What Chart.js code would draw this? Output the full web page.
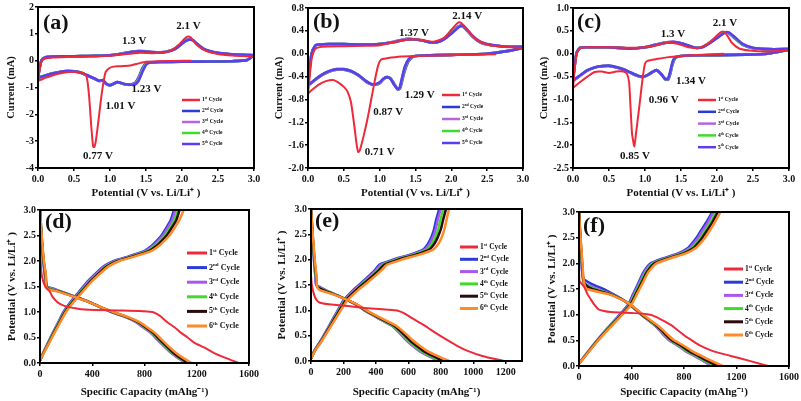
<!DOCTYPE html>
<html><head><meta charset="utf-8">
<script src="https://cdn.jsdelivr.net/npm/chart.js@4"></script>
<style>
html,body{margin:0;padding:0;background:#fff;}
body{width:801px;height:401px;position:relative;overflow:hidden;}
canvas{position:absolute;}
</style></head><body>
<canvas id="ca" width="265" height="200" style="left:0;top:0"></canvas>
<canvas id="cb" width="275" height="200" style="left:265px;top:0"></canvas>
<canvas id="cc" width="271" height="200" style="left:530px;top:0"></canvas>
<canvas id="cd" width="265" height="201" style="left:0;top:200px"></canvas>
<canvas id="ce" width="275" height="201" style="left:265px;top:200px"></canvas>
<canvas id="cf" width="271" height="201" style="left:530px;top:200px"></canvas>
<script>
// ---------------- DATA ----------------
const cvLabels = ['1st Cycle','2nd Cycle','3rd Cycle','4th Cycle','5th Cycle'];
const gcdLabels = ['1st Cycle','2nd Cycle','3rd Cycle','4th Cycle','5th Cycle','6th Cycle'];

const cvXTicks = ['0.0','0.5','1.0','1.5','2.0','2.5','3.0'];
const cvYTicksA = ['-4','-3','-2','-1','0','1','2'];
const cvYTicksB = ['-2.0','-1.6','-1.2','-0.8','-0.4','0.0','0.4','0.8'];
const cvYTicksC = ['-2.5','-2.0','-1.5','-1.0','-0.5','0.0','0.5','1.0'];
const gcdYTicks = ['0.0','0.5','1.0','1.5','2.0','2.5','3.0'];
const gcdXTicksD = ['0','400','800','1200','1600'];
const gcdXTicksE = ['0','200','400','600','800','1000','1200'];
const gcdXTicksF = ['0','400','800','1200','1600'];
const gcdXRangeE = [0, 1300];

// ---- CV (a) ----
const a_redCathV = [2.13,1.9,1.7,1.5,1.4,1.3,1.2,1.1,1.02,0.98,0.94,0.91,0.88,0.85,0.83,0.8,0.78,0.765,0.74,0.71,0.68,0.65,0.6,0.5,0.4,0.3,0.2,0.1,0.05,0.0];
const a_redCathI = [0.0,-0.01,-0.02,-0.04,-0.1,-0.17,-0.2,-0.21,-0.24,-0.3,-0.42,-0.8,-1.33,-2.0,-2.45,-3.05,-3.22,-3.19,-2.45,-1.33,-0.65,-0.5,-0.44,-0.41,-0.43,-0.48,-0.55,-0.64,-0.7,-0.75];
const a_redAnodV = [0.0,0.02,0.05,0.1,0.2,0.4,0.6,0.8,1.0,1.2,1.4,1.6,1.75,1.85,1.95,2.0,2.05,2.08,2.12,2.17,2.25,2.35,2.5,2.7,2.9,3.0];
const a_redAnodI = [-0.75,-0.4,-0.02,0.08,0.12,0.14,0.15,0.16,0.18,0.24,0.29,0.28,0.3,0.38,0.58,0.72,0.85,0.9,0.87,0.7,0.5,0.35,0.25,0.19,0.16,0.15];
const a_cathV = [3.0,2.9,2.7,2.4,2.0,1.7,1.55,1.5,1.45,1.4,1.35,1.3,1.25,1.2,1.15,1.1,1.05,1.0,0.95,0.9,0.85,0.8,0.7,0.6,0.5,0.4,0.3,0.2,0.1,0.0];
const a_c2Cath = [0.2,0.02,-0.02,-0.03,-0.04,-0.05,-0.06,-0.1,-0.28,-0.6,-0.82,-0.88,-0.9,-0.88,-0.84,-0.8,-0.86,-0.92,-0.88,-0.74,-0.76,-0.7,-0.58,-0.46,-0.4,-0.39,-0.42,-0.47,-0.55,-0.65];
const a_c3Cath = [0.2,0.02,-0.02,-0.03,-0.04,-0.05,-0.07,-0.12,-0.33,-0.65,-0.85,-0.89,-0.9,-0.88,-0.83,-0.8,-0.86,-0.91,-0.87,-0.73,-0.76,-0.69,-0.57,-0.45,-0.4,-0.39,-0.42,-0.47,-0.55,-0.64];
const a_c4Cath = [0.19,0.02,-0.02,-0.03,-0.04,-0.05,-0.07,-0.14,-0.38,-0.7,-0.87,-0.9,-0.9,-0.87,-0.83,-0.81,-0.87,-0.92,-0.86,-0.72,-0.75,-0.68,-0.56,-0.45,-0.4,-0.39,-0.42,-0.48,-0.55,-0.64];
const a_c5Cath = [0.19,0.02,-0.02,-0.03,-0.04,-0.05,-0.08,-0.16,-0.42,-0.74,-0.88,-0.9,-0.89,-0.87,-0.82,-0.8,-0.86,-0.91,-0.86,-0.72,-0.75,-0.68,-0.56,-0.45,-0.4,-0.39,-0.42,-0.48,-0.56,-0.63];
const a_anodV = [0.0,0.02,0.05,0.1,0.2,0.4,0.6,0.8,1.0,1.1,1.2,1.3,1.4,1.5,1.6,1.7,1.8,1.9,1.95,2.0,2.05,2.1,2.15,2.2,2.3,2.4,2.5,2.7,2.9,3.0];
const a_c2Anod = [-0.65,-0.3,0.02,0.12,0.15,0.16,0.17,0.18,0.2,0.24,0.28,0.33,0.36,0.35,0.32,0.31,0.35,0.45,0.55,0.66,0.76,0.8,0.76,0.62,0.42,0.33,0.28,0.23,0.21,0.2];
const a_c3Anod = [-0.64,-0.3,0.02,0.12,0.15,0.16,0.17,0.18,0.2,0.24,0.28,0.33,0.36,0.35,0.32,0.31,0.35,0.44,0.54,0.65,0.75,0.79,0.76,0.63,0.43,0.34,0.28,0.23,0.21,0.2];
const a_c4Anod = [-0.64,-0.3,0.02,0.12,0.15,0.16,0.17,0.18,0.2,0.23,0.27,0.32,0.35,0.34,0.31,0.3,0.34,0.43,0.53,0.64,0.74,0.78,0.76,0.64,0.44,0.34,0.28,0.23,0.21,0.2];
const a_c5Anod = [-0.63,-0.3,0.02,0.12,0.15,0.16,0.17,0.18,0.2,0.23,0.27,0.32,0.35,0.34,0.31,0.3,0.33,0.42,0.52,0.63,0.73,0.78,0.77,0.66,0.45,0.35,0.29,0.24,0.21,0.2];

// ---- CV (b) ----
const b_redCathV = [2.62,2.2,1.8,1.5,1.3,1.1,1.02,0.98,0.94,0.9,0.86,0.82,0.78,0.74,0.72,0.7,0.68,0.65,0.6,0.55,0.5,0.42,0.35,0.25,0.15,0.05,0.0];
const b_redCathI = [-0.01,-0.02,-0.03,-0.04,-0.05,-0.08,-0.1,-0.2,-0.42,-0.68,-0.95,-1.2,-1.42,-1.62,-1.7,-1.72,-1.6,-1.3,-0.85,-0.66,-0.58,-0.5,-0.46,-0.48,-0.54,-0.64,-0.7];
const b_redAnodV = [0.0,0.02,0.05,0.1,0.2,0.5,0.8,1.0,1.2,1.4,1.55,1.75,1.9,2.0,2.08,2.12,2.17,2.25,2.35,2.5,2.7,3.0];
const b_redAnodI = [-0.7,-0.45,-0.1,0.08,0.12,0.13,0.14,0.15,0.2,0.25,0.25,0.21,0.28,0.42,0.53,0.55,0.5,0.38,0.25,0.16,0.12,0.1];
const b_cathV = [3.0,2.8,2.5,2.0,1.6,1.5,1.45,1.4,1.35,1.31,1.28,1.25,1.2,1.15,1.1,1.05,1.0,0.95,0.9,0.85,0.8,0.7,0.6,0.5,0.4,0.3,0.2,0.1,0.0];
const b_c2Cath = [0.1,0.05,0.0,-0.02,-0.03,-0.04,-0.07,-0.14,-0.3,-0.5,-0.62,-0.62,-0.52,-0.43,-0.41,-0.45,-0.52,-0.54,-0.54,-0.52,-0.48,-0.38,-0.31,-0.28,-0.28,-0.31,-0.37,-0.46,-0.56];
const b_c3Cath = [0.1,0.05,0.0,-0.02,-0.03,-0.04,-0.06,-0.12,-0.27,-0.47,-0.61,-0.62,-0.53,-0.43,-0.41,-0.45,-0.51,-0.54,-0.54,-0.52,-0.47,-0.37,-0.3,-0.28,-0.28,-0.31,-0.37,-0.46,-0.56];
const b_c4Cath = [0.1,0.05,0.0,-0.02,-0.03,-0.04,-0.06,-0.11,-0.25,-0.45,-0.6,-0.62,-0.53,-0.43,-0.41,-0.44,-0.51,-0.54,-0.54,-0.51,-0.47,-0.37,-0.3,-0.27,-0.27,-0.3,-0.36,-0.45,-0.55];
const b_c5Cath = [0.1,0.05,0.0,-0.02,-0.03,-0.04,-0.05,-0.1,-0.23,-0.43,-0.59,-0.62,-0.54,-0.44,-0.41,-0.44,-0.5,-0.53,-0.54,-0.51,-0.47,-0.37,-0.3,-0.27,-0.27,-0.3,-0.36,-0.45,-0.55];
const b_anodV = [0.0,0.02,0.05,0.1,0.15,0.3,0.5,0.8,1.0,1.2,1.3,1.4,1.5,1.6,1.7,1.8,1.9,2.0,2.07,2.12,2.16,2.2,2.3,2.4,2.5,2.7,2.9,3.0];
const b_c2Anod = [-0.56,-0.3,0.0,0.14,0.16,0.17,0.17,0.16,0.17,0.21,0.24,0.26,0.25,0.23,0.2,0.2,0.27,0.38,0.46,0.49,0.48,0.43,0.29,0.2,0.16,0.13,0.12,0.12];
const b_c3Anod = [-0.56,-0.3,0.0,0.14,0.16,0.17,0.17,0.16,0.17,0.21,0.24,0.26,0.25,0.23,0.2,0.2,0.26,0.37,0.45,0.49,0.48,0.44,0.3,0.2,0.16,0.13,0.12,0.12];
const b_c4Anod = [-0.55,-0.3,0.0,0.14,0.16,0.17,0.17,0.16,0.17,0.2,0.23,0.25,0.25,0.23,0.2,0.2,0.26,0.36,0.44,0.48,0.48,0.44,0.3,0.21,0.16,0.13,0.12,0.12];
const b_c5Anod = [-0.55,-0.3,0.0,0.14,0.16,0.17,0.17,0.16,0.17,0.2,0.23,0.25,0.25,0.23,0.2,0.2,0.25,0.35,0.43,0.48,0.49,0.45,0.31,0.21,0.17,0.13,0.12,0.12];

// ---- CV (c) ----
const c_redCathV = [2.1,1.8,1.5,1.3,1.15,1.08,1.03,1.0,0.97,0.94,0.91,0.88,0.86,0.85,0.84,0.82,0.8,0.78,0.75,0.7,0.6,0.5,0.4,0.3,0.2,0.1,0.0];
const c_redCathI = [0.0,-0.02,-0.05,-0.08,-0.12,-0.14,-0.16,-0.22,-0.5,-0.9,-1.3,-1.68,-1.95,-2.03,-1.95,-1.75,-1.2,-0.64,-0.44,-0.39,-0.39,-0.42,-0.39,-0.4,-0.5,-0.62,-0.75];
const c_redAnodV = [0.0,0.02,0.05,0.1,0.2,0.5,0.8,1.0,1.15,1.3,1.45,1.6,1.75,1.9,2.0,2.06,2.1,2.15,2.2,2.3,2.45,2.7,3.0];
const c_redAnodI = [-0.75,-0.4,0.0,0.12,0.14,0.14,0.13,0.14,0.18,0.24,0.22,0.14,0.13,0.25,0.4,0.48,0.48,0.38,0.25,0.12,0.07,0.05,0.08];
const c_cathV = [3.0,2.7,2.4,2.0,1.6,1.5,1.45,1.41,1.38,1.35,1.32,1.28,1.24,1.2,1.16,1.1,1.05,1.0,0.95,0.9,0.8,0.7,0.6,0.5,0.4,0.3,0.2,0.1,0.0];
const c_c2Cath = [0.09,0.0,-0.02,-0.03,-0.04,-0.05,-0.07,-0.12,-0.25,-0.45,-0.57,-0.54,-0.47,-0.4,-0.36,-0.41,-0.46,-0.5,-0.51,-0.49,-0.42,-0.35,-0.3,-0.27,-0.28,-0.3,-0.37,-0.48,-0.6];
const c_c3Cath = [0.09,0.0,-0.02,-0.03,-0.04,-0.05,-0.07,-0.11,-0.23,-0.43,-0.56,-0.55,-0.47,-0.4,-0.36,-0.4,-0.46,-0.49,-0.51,-0.49,-0.42,-0.34,-0.3,-0.27,-0.27,-0.3,-0.37,-0.48,-0.59];
const c_c4Cath = [0.09,0.0,-0.02,-0.03,-0.04,-0.05,-0.06,-0.1,-0.21,-0.41,-0.55,-0.56,-0.48,-0.4,-0.36,-0.4,-0.45,-0.49,-0.5,-0.48,-0.41,-0.34,-0.29,-0.26,-0.27,-0.3,-0.36,-0.47,-0.59];
const c_c5Cath = [0.09,0.0,-0.02,-0.03,-0.04,-0.05,-0.06,-0.09,-0.19,-0.39,-0.54,-0.56,-0.48,-0.41,-0.36,-0.4,-0.45,-0.49,-0.5,-0.48,-0.41,-0.34,-0.29,-0.26,-0.27,-0.3,-0.36,-0.47,-0.58];
const c_anodV = [0.0,0.02,0.05,0.1,0.2,0.5,0.8,1.0,1.15,1.3,1.4,1.5,1.6,1.7,1.8,1.9,2.0,2.07,2.12,2.17,2.25,2.35,2.5,2.7,3.0];
const c_c2Anod = [-0.6,-0.3,0.02,0.13,0.14,0.14,0.11,0.14,0.2,0.25,0.26,0.23,0.18,0.13,0.15,0.25,0.37,0.45,0.47,0.44,0.33,0.2,0.12,0.1,0.1];
const c_c3Anod = [-0.59,-0.3,0.02,0.13,0.14,0.14,0.11,0.14,0.2,0.25,0.26,0.23,0.18,0.13,0.15,0.24,0.36,0.44,0.47,0.45,0.34,0.21,0.12,0.1,0.1];
const c_c4Anod = [-0.59,-0.3,0.02,0.13,0.14,0.14,0.11,0.14,0.19,0.24,0.25,0.23,0.18,0.13,0.15,0.24,0.35,0.43,0.47,0.45,0.35,0.21,0.13,0.1,0.1];
const c_c5Anod = [-0.58,-0.3,0.02,0.13,0.14,0.14,0.11,0.14,0.19,0.24,0.25,0.23,0.18,0.13,0.14,0.23,0.34,0.42,0.47,0.46,0.36,0.22,0.13,0.1,0.1];

// ---- GCD shared voltage levels ----
const disV = [3.0,2.5,2.0,1.7,1.5,1.45,1.4,1.3,1.2,1.1,1.0,0.9,0.8,0.7,0.6,0.5,0.4,0.3,0.2,0.1,0.0];
const chV = [0.05,0.2,0.4,0.6,0.8,1.0,1.2,1.4,1.6,1.8,1.9,2.0,2.1,2.2,2.3,2.4,2.5,2.6,2.8,3.0];

// ---- GCD (d) ----
const d_redDisV = [2.6,2.0,1.7,1.5,1.4,1.3,1.2,1.15,1.1,1.07,1.05,1.04,1.03,1.02,1.0,0.97,0.93,0.9,0.8,0.7,0.6,0.5,0.4,0.3,0.2,0.1,0.0];
const d_redDisC = [0,5,15,40,75,95,130,160,210,280,340,420,600,760,860,890,915,930,975,1030,1075,1130,1180,1260,1330,1420,1520];
const d_dis2 = [0,10,25,38,55,110,165,270,375,455,548,660,740,795,850,890,928,968,1008,1060,1120];
const d_dis3 = [0,10,26,40,50,100,160,268,372,455,546,655,735,788,842,882,920,960,1002,1055,1115];
const d_dis4 = [0,11,27,42,52,85,155,265,372,458,550,662,745,800,855,895,933,972,1012,1066,1125];
const d_dis5 = [0,12,28,44,50,70,148,262,372,460,555,668,752,808,862,902,940,980,1020,1075,1135];
const d_dis6 = [0,13,30,46,48,62,140,258,370,462,560,675,762,820,875,915,955,995,1040,1095,1160];
const d_ch2 = [0,25,62,100,140,180,235,300,365,445,490,565,690,800,855,895,930,955,1000,1025];
const d_ch3 = [0,26,64,102,143,184,240,306,372,452,498,575,700,810,866,906,941,966,1011,1036];
const d_ch4 = [0,27,66,105,147,189,246,313,380,461,508,586,712,824,880,921,957,983,1029,1054];
const d_ch5 = [0,28,68,108,150,193,251,319,387,469,516,595,722,836,893,934,970,996,1043,1068];
const d_ch6 = [0,30,71,112,155,199,258,327,396,480,528,608,738,854,912,954,991,1018,1066,1100];

// ---- GCD (e) ----
const e_redDisV = [1.7,1.5,1.3,1.2,1.15,1.12,1.1,1.08,1.06,1.04,1.02,1.0,0.97,0.93,0.85,0.7,0.55,0.45,0.3,0.2,0.1,0.0];
const e_redDisC = [0,5,20,35,55,110,180,240,290,350,440,520,555,580,620,700,770,820,900,965,1055,1190];
const e_dis2 = [0,8,18,26,32,60,90,160,225,285,330,385,440,500,535,565,595,630,670,725,790];
const e_dis3 = [0,8,19,27,34,55,88,158,224,285,330,384,438,496,530,560,590,626,666,722,788];
const e_dis4 = [0,9,20,29,35,48,82,157,225,287,333,388,443,502,538,570,600,637,678,734,800];
const e_dis5 = [0,10,21,31,36,42,75,155,226,290,337,393,450,510,548,580,612,650,692,750,815];
const e_dis6 = [0,11,23,33,36,40,55,150,226,293,342,400,460,522,562,597,630,670,715,778,850];
const e_ch2 = [0,20,60,95,130,165,200,260,330,395,420,505,610,690,718,735,748,758,772,790];
const e_ch3 = [0,21,61,97,133,168,205,266,337,403,430,515,620,700,728,745,758,768,782,800];
const e_ch4 = [0,22,63,100,136,172,210,272,345,412,440,526,632,714,742,760,773,784,798,816];
const e_ch5 = [0,23,64,102,139,176,215,278,352,421,450,538,646,728,757,775,788,800,815,832];
const e_ch6 = [0,24,67,106,145,183,224,290,366,437,468,558,668,752,782,800,812,822,836,850];

// ---- GCD (f) ----
const f_redDisV = [1.9,1.65,1.55,1.4,1.3,1.2,1.1,1.07,1.05,1.04,1.03,1.01,0.98,0.9,0.8,0.7,0.6,0.5,0.4,0.3,0.2,0.1,0.0];
const f_redDisC = [0,5,38,65,89,115,150,190,240,320,420,520,565,630,700,750,800,860,920,1010,1150,1300,1440];
const f_disV = [3.0,2.5,2.0,1.7,1.6,1.5,1.4,1.3,1.2,1.1,1.0,0.9,0.8,0.7,0.6,0.5,0.4,0.3,0.2,0.1,0.0];
const f_dis2 = [0,8,18,35,95,185,260,330,385,430,475,525,575,615,650,690,755,810,880,950,1015];
const f_dis3 = [0,9,20,30,50,140,245,325,383,430,475,523,572,612,645,685,750,805,875,945,1010];
const f_dis4 = [0,10,22,30,45,120,240,325,385,433,478,528,578,620,655,697,762,818,890,962,1035];
const f_dis5 = [0,11,24,32,42,100,235,325,387,436,482,533,585,628,665,708,775,832,905,978,1055];
const f_dis6 = [0,12,26,34,40,60,225,322,390,440,488,540,595,640,680,725,795,855,930,1010,1095];
const f_ch2 = [0,45,105,170,240,310,375,412,450,485,510,545,645,760,830,865,895,920,970,1015];
const f_ch3 = [0,46,107,172,243,314,380,418,456,492,518,554,656,772,843,878,908,933,982,1025];
const f_ch4 = [0,47,109,175,247,319,386,425,464,501,528,565,669,787,859,895,926,952,1002,1045];
const f_ch5 = [0,48,111,178,251,324,392,432,472,510,537,575,681,800,872,909,940,966,1016,1058];
const f_ch6 = [0,50,114,182,256,330,400,441,482,521,550,590,698,818,890,928,960,986,1035,1078];

// peak annotations (text anchored at data coordinates)
const annA = [['2.1 V',2.09,1.28],['1.3 V',1.335,0.72],['1.23 V',1.507,-1.056],['1.01 V',1.145,-1.70],['0.77 V',0.834,-3.54]];
const annB = [['2.14 V',2.22,0.65],['1.37 V',1.48,0.36],['1.29 V',1.56,-0.72],['0.87 V',1.12,-1.03],['0.71 V',1.0,-1.73]];
const annC = [['2.1 V',2.11,0.67],['1.3 V',1.39,0.43],['1.34 V',1.64,-0.59],['0.96 V',1.26,-1.01],['0.85 V',0.86,-2.23]];

// ---------------- STYLE ----------------
const FAM = "'Liberation Serif','Times New Roman',serif";
const cvColors = ['#ee2a3a','#2b3bd6','#b665dd','#42d82e','#5b3df2'];
const gcdColors = ['#ee2a3a','#2b3bd6','#a957ee','#42d82e','#2a0a0a','#ff8a2a'];
Chart.defaults.font.family = FAM;
Chart.defaults.font.weight = 'bold';
Chart.defaults.color = '#111';

function pts(xs, ys){ return xs.map((x,i)=>({x:x, y:ys[i]})); }
function loop(cv, ci, av, ai){ return pts(cv, ci).concat(pts(av, ai)); }
function gcd(dc, dv, cc, cv){
  let p = pts(dc, dv);
  if (cc) p = p.concat([{x:null,y:null}], pts(cc, cv));
  return p;
}
function ds(label, data, color, order, w){
  return {label, data, borderColor: color, backgroundColor: color, borderWidth: w, showLine: true,
          pointRadius: 0, pointHoverRadius: 0, fill: false, tension: 0.2, order};
}

function makePanel(id, P){
  const L = P.layout;
  const xVals = P.xTicks.map(Number), yVals = P.yTicks.map(Number);
  const fmt = (vals, labs) => (v) => { const i = vals.findIndex(t => Math.abs(t - v) < 1e-9); return i >= 0 ? labs[i] : ''; };
  const frame = {id:'frame', afterDatasetsDraw(c){
    const a=c.chartArea, g=c.ctx; g.save(); g.strokeStyle='#000'; g.lineWidth=2;
    g.strokeRect(a.left, a.top, a.right-a.left, a.bottom-a.top); g.restore(); }};
  const legend = {id:'cycleLegend', afterDatasetsDraw(c){
    const a=c.chartArea, g=c.ctx, o=P.legend; g.save();
    P.datasets.forEach((d,i)=>{
      const y = a.top + o.y + i*o.row, x = a.left + o.x;
      g.strokeStyle = d.borderColor; g.lineWidth = o.lw;
      g.beginPath(); g.moveTo(x,y); g.lineTo(x+o.len,y); g.stroke();
      const m = /^(\d+)(st|nd|rd|th)\s*(.*)$/.exec(d.label);
      let tx = x + o.len + o.gap;
      g.fillStyle='#111'; g.textAlign='left'; g.textBaseline='middle';
      g.font = 'bold '+o.size+'px '+FAM; g.fillText(m[1], tx, y); tx += g.measureText(m[1]).width;
      g.font = 'bold '+(o.size*0.62)+'px '+FAM; g.fillText(m[2], tx, y - o.size*0.32); tx += g.measureText(m[2]).width + o.size*0.28;
      g.font = 'bold '+o.size+'px '+FAM; g.fillText(m[3], tx, y);
    });
    g.restore(); }};
  const text = {id:'panelText', afterDraw(c){
    const a=c.chartArea, g=c.ctx; g.save(); g.fillStyle='#111';
    g.font = 'bold 22px '+FAM; g.textAlign='left'; g.textBaseline='middle';
    g.fillText(P.tag, a.left + P.tagPos[0], a.top + P.tagPos[1]);
    g.font = 'bold 11px '+FAM; g.textAlign='center';
    (P.ann||[]).forEach(t => g.fillText(t[0], c.scales.x.getPixelForValue(t[1]), c.scales.y.getPixelForValue(t[2])));
    g.restore(); }};
  const gridCfg = {display:true, drawOnChartArea:false, drawTicks:true, tickLength:3, color:'#000', lineWidth:1.5};
  return new Chart(document.getElementById(id), {
    type:'scatter',
    data:{datasets:P.datasets},
    options:{
      responsive:false, animation:false, devicePixelRatio:1, events:[],
      layout:{padding:{top:L.pt, right:L.pr, left:0, bottom:0}},
      plugins:{legend:{display:false}, tooltip:{enabled:false}},
      scales:{
        x:{type:'linear', min:P.xRange[0], max:P.xRange[1],
           afterBuildTicks:s=>{ s.ticks = xVals.map(v=>({value:v})); },
           afterFit:s=>{ s.height = L.xh; },
           grid:gridCfg, border:{display:false},
           ticks:{callback:fmt(xVals,P.xTicks), font:{size:10,weight:'bold'}, padding:2, maxRotation:0, autoSkip:false, color:'#111'},
           title:{display:true, text:P.xTitle, font:{size:11,weight:'bold'}, padding:{top:0,bottom:L.xtPad}, color:'#111'}},
        y:{type:'linear', min:yVals[0], max:yVals[yVals.length-1],
           afterBuildTicks:s=>{ s.ticks = yVals.map(v=>({value:v})); },
           afterFit:s=>{ s.width = L.yw; },
           grid:gridCfg, border:{display:false},
           ticks:{callback:fmt(yVals,P.yTicks), font:{size:10,weight:'bold'}, padding:1, autoSkip:false, color:'#111'},
           title:{display:true, text:P.yTitle, font:{size:L.ytSize||11,weight:'bold'}, padding:{top:L.ytPad,bottom:0}, color:'#111'}}
      }
    },
    plugins:[frame, legend, text]
  });
}

const cvX = 'Potential (V vs. Li/Li\u207A )';
const cvY = 'Current (mA)';
const gX = 'Specific Capacity (mAhg\u207B\u00B9)';
const gY = 'Potential (V vs. Li/Li\u207A )';
const cvR = [Number(cvXTicks[0]), Number(cvXTicks[cvXTicks.length-1])];

function cvSets(r, cath, anod, cs, ca){
  return [ds(cvLabels[0], loop(r[0],r[1],r[2],r[3]), cvColors[0], 0, 2)].concat(
    [1,2,3,4].map(k => ds(cvLabels[k], loop(cath, cs[k-1], anod, ca[k-1]), cvColors[k], 6-k, 2.6)));
}
function gcdSets(rc, rv, dv, dis, cv, ch){
  return [ds(gcdLabels[0], gcd(rc, rv), gcdColors[0], 0, 2)].concat(
    [1,2,3,4,5].map(k => ds(gcdLabels[k], gcd(dis[k-1], dv, ch[k-1], cv), gcdColors[k], 7-k, 2.5)));
}

makePanel('ca', {
  datasets: cvSets([a_redCathV,a_redCathI,a_redAnodV,a_redAnodI], a_cathV, a_anodV,
    [a_c2Cath,a_c3Cath,a_c4Cath,a_c5Cath], [a_c2Anod,a_c3Anod,a_c4Anod,a_c5Anod]),
  xTicks: cvXTicks, yTicks: cvYTicksA, xRange: cvR, xTitle: cvX, yTitle: cvY,
  layout:{yw:38, xh:32, pt:7, pr:11, ytPad:5, xtPad:0, ytSize:10.5},
  legend:{x:144, y:93, row:11, len:18, gap:2, size:5.5, lw:2.5},
  tag:'(a)', tagPos:[5,16], ann: annA
});
makePanel('cb', {
  datasets: cvSets([b_redCathV,b_redCathI,b_redAnodV,b_redAnodI], b_cathV, b_anodV,
    [b_c2Cath,b_c3Cath,b_c4Cath,b_c5Cath], [b_c2Anod,b_c3Anod,b_c4Anod,b_c5Anod]),
  xTicks: cvXTicks, yTicks: cvYTicksB, xRange: cvR, xTitle: cvX, yTitle: cvY,
  layout:{yw:43, xh:32, pt:8, pr:17, ytPad:8, xtPad:0, ytSize:10.5},
  legend:{x:134, y:87, row:12, len:18, gap:2, size:5.5, lw:2.5},
  tag:'(b)', tagPos:[5,14.5], ann: annB
});
makePanel('cc', {
  datasets: cvSets([c_redCathV,c_redCathI,c_redAnodV,c_redAnodI], c_cathV, c_anodV,
    [c_c2Cath,c_c3Cath,c_c4Cath,c_c5Cath], [c_c2Anod,c_c3Anod,c_c4Anod,c_c5Anod]),
  xTicks: cvXTicks, yTicks: cvYTicksC, xRange: cvR, xTitle: cvX, yTitle: cvY,
  layout:{yw:43, xh:32, pt:8, pr:12, ytPad:8, xtPad:0, ytSize:10.5},
  legend:{x:125, y:92, row:11.8, len:18, gap:2, size:5.5, lw:2.5},
  tag:'(c)', tagPos:[4,14.5], ann: annC
});
makePanel('cd', {
  datasets: gcdSets(d_redDisC, d_redDisV, disV, [d_dis2,d_dis3,d_dis4,d_dis5,d_dis6], chV, [d_ch2,d_ch3,d_ch4,d_ch5,d_ch6]),
  xTicks: gcdXTicksD, yTicks: gcdYTicks, xRange:[Number(gcdXTicksD[0]), Number(gcdXTicksD[gcdXTicksD.length-1])], xTitle: gX, yTitle: gY,
  layout:{yw:40, xh:38, pt:10, pr:16, ytPad:6, xtPad:2},
  legend:{x:147, y:43, row:14.6, len:20, gap:2, size:8, lw:3},
  tag:'(d)', tagPos:[5,12.5]
});
makePanel('ce', {
  datasets: gcdSets(e_redDisC, e_redDisV, disV, [e_dis2,e_dis3,e_dis4,e_dis5,e_dis6], chV, [e_ch2,e_ch3,e_ch4,e_ch5,e_ch6]),
  xTicks: gcdXTicksE, yTicks: gcdYTicks, xRange: gcdXRangeE, xTitle: gX, yTitle: gY,
  layout:{yw:46, xh:40, pt:9, pr:18, ytPad:11, xtPad:2},
  legend:{x:149, y:38, row:12.3, len:18, gap:2, size:7.5, lw:3},
  tag:'(e)', tagPos:[4,12.5]
});
makePanel('cf', {
  datasets: gcdSets(f_redDisC, f_redDisV, f_disV, [f_dis2,f_dis3,f_dis4,f_dis5,f_dis6], chV, [f_ch2,f_ch3,f_ch4,f_ch5,f_ch6]),
  xTicks: gcdXTicksF, yTicks: gcdYTicks, xRange:[Number(gcdXTicksF[0]), Number(gcdXTicksF[gcdXTicksF.length-1])], xTitle: gX, yTitle: gY,
  layout:{yw:49, xh:35, pt:12, pr:12, ytPad:16, xtPad:2},
  legend:{x:145, y:57, row:13.2, len:19, gap:2, size:7.5, lw:3},
  tag:'(f)', tagPos:[4,14]
});
</script>
</body></html>
